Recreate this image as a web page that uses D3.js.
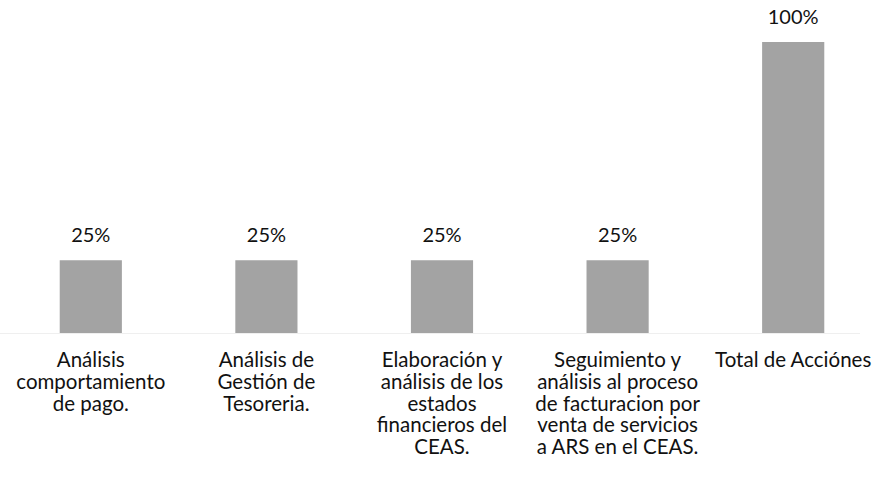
<!DOCTYPE html>
<html>
<head>
<meta charset="utf-8">
<script src="https://cdn.jsdelivr.net/npm/d3@7"></script>
<style>
  html, body { margin: 0; padding: 0; background: #fff; }
</style>
</head>
<body>
<div id="chart"></div>
<script>
// categories (line breaks as in the original labels)
var categories = [
  "Análisis\ncomportamiento\nde pago.",
  "Análisis de\nGestión de\nTesoreria.",
  "Elaboración y\nanálisis de los\nestados\nfinancieros del\nCEAS.",
  "Seguimiento y\nanálisis al proceso\nde facturacion por\nventa de servicios\na ARS en el CEAS.",
  "Total de Acciónes"
];
var values = [0.25, 0.25, 0.25, 0.25, 1.0];
var valueLabels = ["25%", "25%", "25%", "25%", "100%"];

var width = 876, height = 489;
var fontFamily = "Lato, 'Open Sans', sans-serif";
var barColor = "#a3a3a3";

var svg = d3.select("#chart")
  .append("svg")
  .attr("width", width)
  .attr("height", height);

var x = d3.scaleBand()
  .domain(d3.range(categories.length))
  .range([3, 881])
  .paddingInner(0.646)
  .paddingOuter(0.323);

var baseline = 333;
var y = d3.scaleLinear().domain([0, 1]).range([baseline, 42]);

// faint baseline
svg.append("line")
  .attr("x1", 0)
  .attr("x2", 860)
  .attr("y1", baseline + 0.5)
  .attr("y2", baseline + 0.5)
  .attr("stroke", "#efefef")
  .attr("stroke-width", 1);

svg.selectAll("rect.bar")
  .data(values)
  .enter()
  .append("rect")
  .attr("class", "bar")
  .attr("x", function (d, i) { return x(i); })
  .attr("y", function (d) { return y(d); })
  .attr("width", x.bandwidth())
  .attr("height", function (d) { return baseline - y(d); })
  .attr("fill", barColor);

svg.selectAll("text.value")
  .data(values)
  .enter()
  .append("text")
  .attr("class", "value")
  .attr("x", function (d, i) { return x(i) + x.bandwidth() / 2; })
  .attr("y", function (d) { return y(d) - 18; })
  .attr("text-anchor", "middle")
  .attr("font-family", fontFamily)
  .attr("font-size", "20px")
  .attr("fill", "#111")
  .text(function (d, i) { return valueLabels[i]; });

var labels = svg.selectAll("text.name")
  .data(categories)
  .enter()
  .append("text")
  .attr("class", "name")
  .attr("text-anchor", "middle")
  .attr("font-family", fontFamily)
  .attr("font-size", "20.5px")
  .attr("fill", "#111")
  .attr("x", function (d, i) { return x(i) + x.bandwidth() / 2; })
  .attr("y", 367);

labels.each(function (d, i) {
  var t = d3.select(this);
  var cx = x(i) + x.bandwidth() / 2;
  d.split("\n").forEach(function (line, k) {
    t.append("tspan")
      .attr("x", cx)
      .attr("dy", k === 0 ? 0 : 21.8)
      .text(line);
  });
});
</script>
</body>
</html>
